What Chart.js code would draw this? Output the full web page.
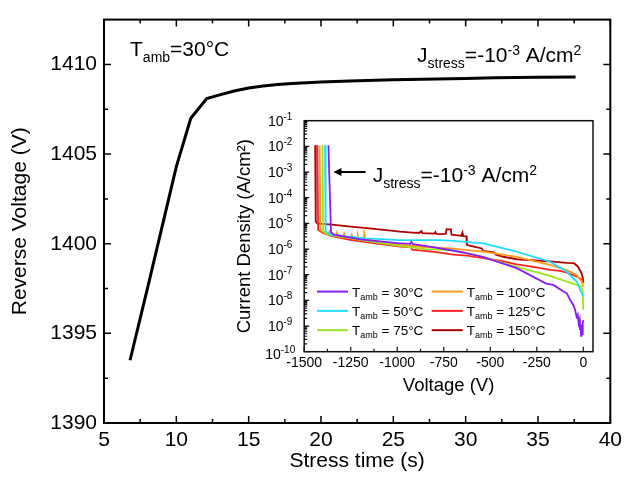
<!DOCTYPE html>
<html><head><meta charset="utf-8">
<script src="https://cdn.jsdelivr.net/npm/chart.js@4.4.0/dist/chart.umd.min.js"></script>
<style>
html,body{margin:0;padding:0;background:#fff;}
#wrap{position:relative;width:627px;height:477px;overflow:hidden;}
#main{position:absolute;left:0;top:0;}
#inset{position:absolute;left:225px;top:105px;}
</style></head><body>
<div id="wrap"><canvas id="main" width="627" height="477"></canvas><canvas id="inset" width="375" height="300"></canvas></div>
<script>
const FF = '"Liberation Sans", Arial, Helvetica, sans-serif';

// ---- main chart data ----
const stressTime = [6.8, 8, 9, 10, 11, 12.1, 13, 14, 15, 16, 17, 18, 20, 22, 25, 28, 30, 32, 35, 37.6];
const reverseVoltage = [1393.5, 1397.5, 1400.9, 1404.3, 1407.0, 1408.1, 1408.3, 1408.52, 1408.68, 1408.8, 1408.88, 1408.93, 1409.02, 1409.08, 1409.14, 1409.19, 1409.22, 1409.25, 1409.28, 1409.3];
const mainXTicks = [5, 10, 15, 20, 25, 30, 35, 40];
const mainXMinor = [7.5, 12.5, 17.5, 22.5, 27.5, 32.5, 37.5];
const mainYTicks = [1390, 1395, 1400, 1405, 1410];
const mainYMinor = [1392.5, 1397.5, 1402.5, 1407.5];

// ---- inset data (Voltage V, current density A/cm2) ----
const v30 = [-1370, -1356, -1340, -1200, -1000, -930, -925, -915, -800, -650, -537, -358, -200, -161, -107, -89, -71, -54, -45, -36, -30, -25, -20, -18, -15, -12, -10, -8, -6, -4, -2, 0];
const j30 = [1.1e-2, 4.5e-6, 3.6e-6, 2.4e-6, 1.7e-6, 1.6e-6, 1.9e-6, 1.55e-6, 1.15e-6, 7.5e-7, 4.8e-7, 1.8e-7, 4.5e-8, 4e-8, 2.2e-8, 1.9e-8, 1.05e-8, 6.6e-9, 4.5e-9, 2.3e-9, 2.8e-9, 1.3e-9, 1.8e-9, 7e-10, 1.2e-9, 4.1e-10, 9e-10, 5e-10, 1.1e-9, 4.5e-10, 1.3e-9, 1.7e-9];
const v50 = [-1388, -1385, -1370, -1349, -1166, -989, -774, -717, -537, -358, -179, -89, -36, -9, 0];
const j50 = [1.1e-2, 5.0e-6, 4.0e-6, 3.55e-6, 2.6e-6, 2.24e-6, 2.24e-6, 2.14e-6, 1.66e-6, 7.9e-7, 3.2e-7, 1.3e-7, 5.4e-8, 1.9e-8, 1.4e-8];
const v75 = [-1402, -1398, -1380, -1349, -1166, -989, -850, -717, -537, -358, -179, -89, -36, -12, -4, 0];
const j75 = [1.1e-2, 5.0e-6, 4.0e-6, 3.4e-6, 2.1e-6, 1.32e-6, 1.0e-6, 9e-7, 5e-7, 2.0e-7, 9e-8, 5.4e-8, 4e-8, 3.4e-8, 2.5e-8, 4.3e-9];
const v100 = [-1417, -1413, -1400, -1380, -1370, -1365, -1360, -1330, -1325, -1320, -1290, -1285, -1280, -1250, -1245, -1240, -1215, -1212, -1208, -1180, -1177, -1172, -1100, -989, -850, -717, -537, -358, -179, -89, -36, -9, 0];
const j100 = [1.1e-2, 5.5e-6, 4.6e-6, 4.0e-6, 3.8e-6, 4.8e-6, 3.7e-6, 3.5e-6, 4.4e-6, 3.4e-6, 3.2e-6, 4.0e-6, 3.1e-6, 2.9e-6, 3.6e-6, 2.8e-6, 2.7e-6, 3.4e-6, 2.6e-6, 2.5e-6, 4.1e-6, 2.4e-6, 2.0e-6, 1.45e-6, 1.2e-6, 1.07e-6, 7.9e-7, 5e-7, 2.4e-7, 1.5e-7, 9.8e-8, 5.4e-8, 3.4e-8];
const v125 = [-1429, -1425, -1415, -1400, -1350, -1254, -1100, -985, -925, -920, -800, -700, -626, -537, -447, -358, -268, -179, -125, -89, -36, -15, -5, 0];
const j125 = [1.1e-2, 5.5e-6, 5.0e-6, 4.2e-6, 3.2e-6, 2.3e-6, 1.6e-6, 1.25e-6, 1.15e-6, 9.5e-7, 7.8e-7, 6.0e-7, 5.5e-7, 4.4e-7, 3.5e-7, 2.5e-7, 2.0e-7, 1.55e-7, 1.4e-7, 1.2e-7, 8.5e-8, 7e-8, 6e-8, 4.7e-8];
const v150 = [-1441, -1438, -1430, -1400, -1350, -1250, -1164, -1060, -985, -900, -880, -870, -865, -800, -795, -790, -760, -740, -735, -725, -712, -708, -690, -655, -650, -645, -628, -626, -600, -570, -545, -540, -480, -470, -430, -358, -179, -89, -50, -27, -9, -2, 0];
const j150 = [1.1e-2, 1.2e-5, 1.0e-5, 9.5e-6, 8.9e-6, 7.5e-6, 6.5e-6, 5.5e-6, 4.8e-6, 4.3e-6, 4.3e-6, 5.0e-6, 4.2e-6, 4.0e-6, 4.6e-6, 3.9e-6, 3.8e-6, 3.9e-6, 5.9e-6, 5.8e-6, 5.9e-6, 3.6e-6, 3.5e-6, 3.3e-6, 4.4e-6, 3.2e-6, 3.1e-6, 1.45e-6, 1.3e-6, 1.15e-6, 1.05e-6, 8.5e-7, 7.5e-7, 6e-7, 5e-7, 4e-7, 3.3e-7, 2.9e-7, 2.8e-7, 2.0e-7, 1.1e-7, 7e-8, 4.7e-8];
const seriesTemps = ['30', '50', '75', '100', '125', '150'];
const seriesColors = ['#8a1cf5', '#22dcff', '#9be61a', '#ff9a1a', '#ff2020', '#b00000'];
const insetXTicks = [-1500, -1250, -1000, -750, -500, -250, 0];
const insetXMinor = [-1375, -1125, -875, -625, -375, -125];
const insetYExp = [-10, -9, -8, -7, -6, -5, -4, -3, -2, -1];

// ---- helpers ----
function drawRich(ctx, parts, x, y, align) {
  let w = 0;
  parts.forEach(p => { ctx.font = p.size + 'px ' + FF; p.w = ctx.measureText(p.t).width; w += p.w; });
  let cx = align === 'right' ? x - w : (align === 'center' ? x - w / 2 : x);
  ctx.textBaseline = 'alphabetic'; ctx.textAlign = 'left';
  parts.forEach(p => { ctx.font = p.size + 'px ' + FF; ctx.fillText(p.t, cx, y + (p.dy || 0)); cx += p.w; });
}
function setTicks(arr) { return function (s) { s.ticks = arr.map(v => ({ value: v })); }; }
const plainLabel = v => String(v);

// ---- main chart ----
const mainDecor = {
  id: 'mainDecor',
  afterDraw(chart) {
    const { ctx, chartArea: a, scales: { x, y } } = chart;
    ctx.save();
    ctx.strokeStyle = '#000';
    ctx.lineWidth = 1.5;
    ctx.beginPath();
    const tick = (arr, len) => {
      arr.forEach(v => { const px = x.getPixelForValue(v);
        ctx.moveTo(px, a.bottom); ctx.lineTo(px, a.bottom - len);
        ctx.moveTo(px, a.top); ctx.lineTo(px, a.top + len); });
    };
    const ytick = (arr, len) => {
      arr.forEach(v => { const py = y.getPixelForValue(v);
        ctx.moveTo(a.left, py); ctx.lineTo(a.left + len, py);
        ctx.moveTo(a.right, py); ctx.lineTo(a.right - len, py); });
    };
    tick(mainXTicks, 7); tick(mainXMinor, 4); ytick(mainYTicks, 7); ytick(mainYMinor, 4);
    ctx.stroke();
    ctx.lineWidth = 2;
    ctx.strokeRect(a.left, a.top, a.right - a.left, a.bottom - a.top);
    ctx.fillStyle = '#000';
    drawRich(ctx, [{ t: 'T', size: 21 }, { t: 'amb', size: 14, dy: 6 }, { t: '=30°C', size: 21 }],
      x.getPixelForValue(6.8), y.getPixelForValue(1410.45), 'left');
    drawRich(ctx, [{ t: 'J', size: 21 }, { t: 'stress', size: 14, dy: 6 }, { t: '=-10', size: 21 }, { t: '-3', size: 14, dy: -7 }, { t: ' A/cm', size: 21 }, { t: '2', size: 14, dy: -7 }],
      x.getPixelForValue(38.0), y.getPixelForValue(1410.13), 'right');
    ctx.restore();
  }
};

new Chart(document.getElementById('main'), {
  type: 'scatter',
  data: { datasets: [{ data: stressTime.map((t, i) => ({ x: t, y: reverseVoltage[i] })), showLine: true, borderColor: '#000', borderWidth: 3, pointRadius: 0, tension: 0 }] },
  options: {
    responsive: false, animation: false, devicePixelRatio: 1,
    layout: { padding: { left: 0, top: 13, right: 12, bottom: 0 } },
    plugins: { legend: { display: false }, tooltip: { enabled: false } },
    scales: {
      x: { type: 'linear', min: 5, max: 40, afterBuildTicks: setTicks(mainXTicks), afterFit: s => { s.height = 54; },
        grid: { display: false, drawTicks: false }, border: { display: false },
        ticks: { font: { size: 21, family: FF }, color: '#000', padding: 5, maxRotation: 0, autoSkip: false, callback: plainLabel },
        title: { display: true, text: 'Stress time (s)', color: '#000', font: { size: 21, family: FF }, padding: { top: 0, bottom: 3 } } },
      y: { type: 'linear', min: 1390, max: 1412.5, afterBuildTicks: setTicks(mainYTicks), afterFit: s => { s.width = 104; },
        grid: { display: false, drawTicks: false }, border: { display: false },
        ticks: { font: { size: 21, family: FF }, color: '#000', padding: 7, autoSkip: false, callback: plainLabel },
        title: { display: true, text: 'Reverse Voltage (V)', color: '#000', font: { size: 21, family: FF }, padding: { top: 8, bottom: 0 } } }
    }
  },
  plugins: [mainDecor]
});

// ---- inset chart ----
const insetDecor = {
  id: 'insetDecor',
  afterDraw(chart) {
    const { ctx, chartArea: a, scales: { x, y } } = chart;
    ctx.save();
    ctx.strokeStyle = '#111';
    ctx.lineWidth = 1.2;
    ctx.beginPath();
    insetXTicks.forEach(v => { const px = x.getPixelForValue(v); ctx.moveTo(px, a.bottom); ctx.lineTo(px, a.bottom - 5); });
    insetXMinor.forEach(v => { const px = x.getPixelForValue(v); ctx.moveTo(px, a.bottom); ctx.lineTo(px, a.bottom - 3); });
    insetYExp.forEach(e => {
      let py = y.getPixelForValue(Math.pow(10, e)); ctx.moveTo(a.left, py); ctx.lineTo(a.left + 5, py);
      if (e < -1) for (let m = 2; m <= 9; m++) { py = y.getPixelForValue(m * Math.pow(10, e)); ctx.moveTo(a.left, py); ctx.lineTo(a.left + 3, py); }
    });
    ctx.stroke();
    ctx.lineWidth = 1.5;
    ctx.strokeRect(a.left, a.top, a.right - a.left, a.bottom - a.top);
    ctx.fillStyle = '#000';
    // y labels (10 with superscript exponent)
    insetYExp.forEach(e => {
      const py = y.getPixelForValue(Math.pow(10, e)) + (e === -10 ? 2 : 0);
      drawRich(ctx, [{ t: '10', size: 14 }, { t: String(e), size: 10, dy: -6 }], a.left - 24, py + 5, 'center');
    });
    // legend
    const colX = [x.getPixelForValue(-1431), x.getPixelForValue(-815)];
    const row0 = y.getPixelForValue(2.2e-8);
    seriesTemps.forEach((t, i) => {
      const cx = colX[Math.floor(i / 3)], cy = row0 + 19.3 * (i % 3);
      ctx.strokeStyle = seriesColors[i]; ctx.lineWidth = 2;
      ctx.beginPath(); ctx.moveTo(cx, cy); ctx.lineTo(cx + 31, cy); ctx.stroke();
      ctx.fillStyle = '#000';
      drawRich(ctx, [{ t: 'T', size: 13.5 }, { t: 'amb', size: 9, dy: 3 }, { t: ' = ' + t + '°C', size: 13.5 }], cx + 35, cy + 5, 'left');
    });
    // annotation arrow
    const ay = y.getPixelForValue(1e-3);
    const tipX = x.getPixelForValue(-1343), tailX = x.getPixelForValue(-1170);
    ctx.strokeStyle = '#000'; ctx.fillStyle = '#000'; ctx.lineWidth = 2;
    ctx.beginPath(); ctx.moveTo(tipX + 6, ay); ctx.lineTo(tailX, ay); ctx.stroke();
    ctx.beginPath(); ctx.moveTo(tipX, ay); ctx.lineTo(tipX + 8, ay - 4); ctx.lineTo(tipX + 8, ay + 4); ctx.closePath(); ctx.fill();
    drawRich(ctx, [{ t: 'J', size: 21 }, { t: 'stress', size: 14, dy: 6 }, { t: '=-10', size: 21 }, { t: '-3', size: 14, dy: -7 }, { t: ' A/cm', size: 21 }, { t: '2', size: 14, dy: -7 }],
      x.getPixelForValue(-1132), ay + 9.7, 'left');
    ctx.restore();
  }
};

const vArr = [v30, v50, v75, v100, v125, v150];
const jArr = [j30, j50, j75, j100, j125, j150];
new Chart(document.getElementById('inset'), {
  type: 'scatter',
  data: { datasets: vArr.map((vs, k) => ({ data: vs.map((v, i) => ({ x: v, y: jArr[k][i] })), showLine: true, borderColor: seriesColors[k], borderWidth: 1.8, pointRadius: 0, tension: 0 })) },
  options: {
    responsive: false, animation: false, devicePixelRatio: 1,
    layout: { padding: { left: 0, top: 15.7, right: 7, bottom: 0 } },
    plugins: { legend: { display: false }, tooltip: { enabled: false } },
    scales: {
      x: { type: 'linear', min: -1500, max: 52, afterBuildTicks: setTicks(insetXTicks), afterFit: s => { s.height = 53.3; },
        grid: { display: false, drawTicks: false }, border: { display: false },
        ticks: { font: { size: 14, family: FF }, color: '#000', padding: 3, maxRotation: 0, autoSkip: false, callback: plainLabel },
        title: { display: true, text: 'Voltage (V)', color: '#000', font: { size: 18.5, family: FF }, padding: { top: 0, bottom: 8.2 } } },
      y: { type: 'logarithmic', min: 1e-10, max: 1e-1, afterBuildTicks: s => { s.ticks = insetYExp.map(e => ({ value: Math.pow(10, e) })); }, afterFit: s => { s.width = 79.2; },
        grid: { display: false, drawTicks: false }, border: { display: false },
        ticks: { display: false },
        title: { display: true, text: 'Current Density (A/cm²)', color: '#000', font: { size: 18.5, family: FF }, padding: { top: 8.9, bottom: 0 } } }
    }
  },
  plugins: [insetDecor]
});
</script></body></html>
